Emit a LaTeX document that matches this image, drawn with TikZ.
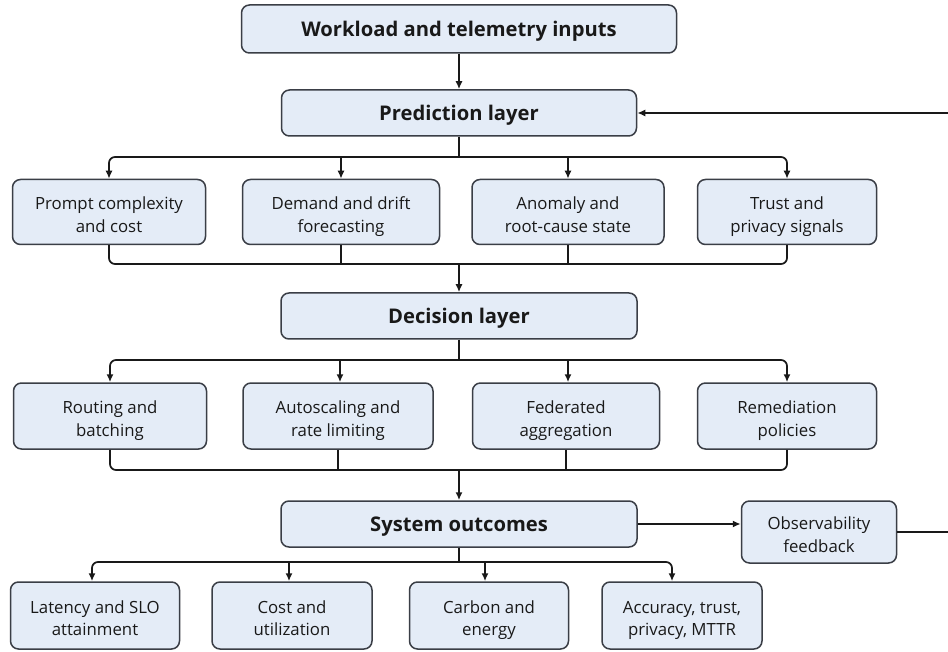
\documentclass[tikz,border=0pt]{standalone}
\usepackage{fontspec}
\setmainfont{Open Sans}
\usetikzlibrary{arrows.meta}
\definecolor{boxfill}{RGB}{228,236,247}
\definecolor{boxline}{RGB}{58,62,70}
\definecolor{txt}{RGB}{25,25,25}
\tikzset{
  x=1pt, y=-1pt,
  basebox/.style={draw=boxline, line width=1.5pt, fill=boxfill, rounded corners=8pt, align=center, text=txt, inner sep=0pt},
  box/.style={basebox, font=\fontsize{16.8}{22.5}\selectfont, text height=44pt, text depth=3.5pt},
  bigbox/.style={basebox, font=\fontsize{20.2}{24}\selectfont\bfseries, text height=20pt, text depth=4.4pt},
  wire/.style={draw=black!90, line width=1.7pt},
  arr/.style={wire, -{Latex[length=8pt,width=7pt]}},
}
\begin{document}
\begin{tikzpicture}
\useasboundingbox (0,0) rectangle (948,652);
\fill[white] (0,0) rectangle (948,652);
% top layers
\node[bigbox, minimum width=435pt, minimum height=48pt] (inp) at (459,29) {Workload and telemetry inputs};
\node[bigbox, minimum width=355pt, minimum height=46pt] (pred) at (459,113) {Prediction layer};
% row 1
\node[box, minimum width=193pt, minimum height=65pt] (p1) at (109,212) {Prompt complexity\\and cost};
\node[box, minimum width=197pt, minimum height=65pt] (p2) at (341,212) {Demand and drift\\forecasting};
\node[box, minimum width=192pt, minimum height=65pt] (p3) at (568,212) {Anomaly and\\root-cause state};
\node[box, minimum width=179pt, minimum height=65pt] (p4) at (787,212) {Trust and\\privacy signals};
\node[bigbox, minimum width=356pt, minimum height=46pt] (dec) at (459,316) {Decision layer};
% row 2
\node[box, minimum width=193pt, minimum height=66pt] (d1) at (110,416) {Routing and\\batching};
\node[box, minimum width=190pt, minimum height=66pt] (d2) at (338,416) {Autoscaling and\\rate limiting};
\node[box, minimum width=187pt, minimum height=66pt] (d3) at (566,416) {Federated\\aggregation};
\node[box, minimum width=179pt, minimum height=66pt] (d4) at (787,416) {Remediation\\policies};
\node[bigbox, minimum width=356pt, minimum height=46pt] (sys) at (459,524) {System outcomes};
\node[box, minimum width=155pt, minimum height=62pt] (obs) at (819,532) {Observability\\feedback};
% row 3
\node[box, minimum width=169pt, minimum height=67pt] (o1) at (95,615.5) {Latency and SLO\\attainment};
\node[box, minimum width=160pt, minimum height=67pt] (o2) at (292,615.5) {Cost and\\utilization};
\node[box, minimum width=159pt, minimum height=67pt] (o3) at (489,615.5) {Carbon and\\energy};
\node[box, minimum width=160pt, minimum height=67pt] (o4) at (682,615.5) {Accuracy, trust,\\privacy, MTTR};
% junction points
\coordinate (f1) at (459,157);
\coordinate (m1) at (459,264);
\coordinate (f2) at (459,360);
\coordinate (m2) at (459,470);
\coordinate (f3) at (459,562);
% connectors
\draw[arr] (inp) -- (pred);
\draw[wire] (pred.south) -- (f1);
\draw[arr, rounded corners=6pt] (f1) -| (p1.north);
\draw[arr, rounded corners=6pt] (f1) -| (p4.north);
\draw[arr] (p2.north |- f1) -- (p2.north);
\draw[arr] (p3.north |- f1) -- (p3.north);
\draw[wire, rounded corners=6pt] (p1.south) |- (m1) -| (p4.south);
\draw[wire] (p2.south) -- (p2.south |- m1);
\draw[wire] (p3.south) -- (p3.south |- m1);
\draw[arr] (m1) -- (dec.north);
\draw[wire] (dec.south) -- (f2);
\draw[arr, rounded corners=6pt] (f2) -| (d1.north);
\draw[arr, rounded corners=6pt] (f2) -| (d4.north);
\draw[arr] ([xshift=2pt]d2.north |- f2) -- ([xshift=2pt]d2.north);
\draw[arr] ([xshift=2pt]d3.north |- f2) -- ([xshift=2pt]d3.north);
\draw[wire, rounded corners=6pt] (d1.south) |- (m2) -| (d4.south);
\draw[wire] (d2.south) -- (d2.south |- m2);
\draw[wire] (d3.south) -- (d3.south |- m2);
\draw[arr] (m2) -- (sys.north);
\draw[wire] (sys.south) -- (f3);
\draw[arr, rounded corners=6pt] (f3) -| ([xshift=-3pt]o1.north);
\draw[arr, rounded corners=6pt] (f3) -| ([xshift=-10pt]o4.north);
\draw[arr] ([xshift=-3pt]o2.north |- f3) -- ([xshift=-3pt]o2.north);
\draw[arr] ([xshift=-4pt]o3.north |- f3) -- ([xshift=-4pt]o3.north);
\draw[arr] (sys.east) -- (sys.east -| obs.west);
\draw[arr] (obs.east) -- ++(70,0) |- (pred.east);
\end{tikzpicture}
\end{document}
